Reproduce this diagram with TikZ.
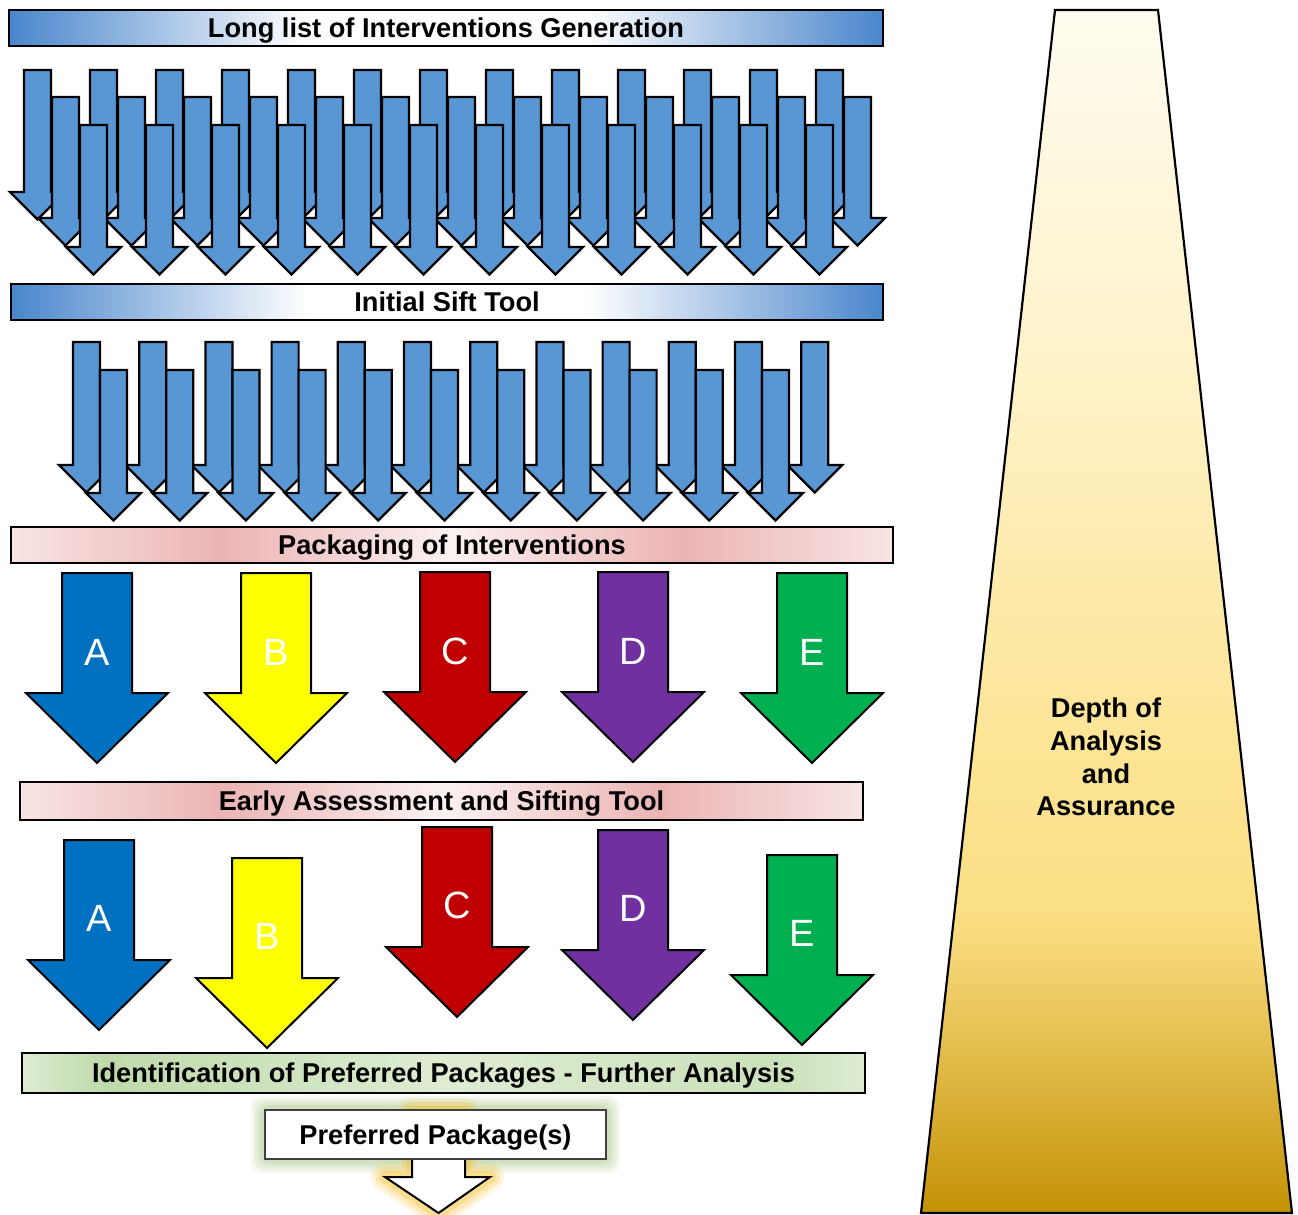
\documentclass[tikz,border=0pt]{standalone}
\usepackage{fontspec}
\setmainfont{Liberation Sans}
\usepackage{tikz}
\usetikzlibrary{positioning, calc}

\definecolor{siftblue}{RGB}{88,150,212}
\definecolor{barblue}{RGB}{74,134,204}
\definecolor{barpink}{RGB}{236,180,180}
\definecolor{barpinklight}{RGB}{248,228,228}
\definecolor{bargreen}{RGB}{190,218,170}
\definecolor{bargreenlight}{RGB}{222,236,210}
\definecolor{pkgA}{RGB}{0,112,192}
\definecolor{pkgB}{RGB}{255,255,0}
\definecolor{pkgC}{RGB}{192,0,0}
\definecolor{pkgD}{RGB}{112,48,160}
\definecolor{pkgE}{RGB}{0,176,80}
\definecolor{goldtop}{RGB}{255,252,240}
\definecolor{goldhigh}{RGB}{254,242,200}
\definecolor{goldmid}{RGB}{253,230,155}
\definecolor{goldlow}{RGB}{251,222,130}
\definecolor{goldbot}{RGB}{196,146,6}
\definecolor{glowyellow}{RGB}{245,190,40}
\definecolor{glowgreen}{RGB}{150,185,110}

\pgfdeclarehorizontalshading{bluebar}{100bp}{color(0bp)=(barblue); color(25bp)=(barblue);
    color(42bp)=(white); color(58bp)=(white); color(75bp)=(barblue); color(100bp)=(barblue)}
\pgfdeclarehorizontalshading{pinkbar}{100bp}{color(0bp)=(barpinklight); color(25bp)=(barpinklight);
    color(37bp)=(barpink); color(50bp)=(barpinklight!50!white); color(63bp)=(barpink);
    color(75bp)=(barpinklight); color(100bp)=(barpinklight)}
\pgfdeclarehorizontalshading{greenbar}{100bp}{color(0bp)=(bargreenlight); color(25bp)=(bargreenlight);
    color(30bp)=(bargreen); color(50bp)=(bargreenlight); color(70bp)=(bargreen!60!bargreenlight);
    color(75bp)=(bargreenlight); color(100bp)=(bargreenlight)}
\pgfdeclareverticalshading{depthgold}{100bp}{color(0bp)=(goldbot); color(25bp)=(goldbot);
    color(37bp)=(goldlow); color(46bp)=(goldmid); color(60bp)=(goldhigh);
    color(75bp)=(goldtop); color(100bp)=(goldtop)}

\tikzset{
    siftshape/.style={draw=black, line width=1.1pt, fill=siftblue},
    pkgshape/.style={draw=black, line width=1pt},
    stagebar/.style={draw=black, line width=1.3pt, inner sep=0pt,
        text height=9.8pt, text depth=0pt,
        font=\fontsize{13.6}{16.3}\selectfont\bfseries},
    pkglabel/.style={text=white, inner sep=0pt, font=\fontsize{19}{22}\selectfont},
    depthtext/.style={align=center, inner sep=0pt,
        font=\fontsize{13.6}{16.35}\selectfont\bfseries},
}

% small sift arrow: shaft left x, shaft top y, head y
\def\siftarrow#1#2#3{%
    \draw[siftshape] (#1,#2) -- (#1+27,#2) -- (#1+27,#3) -- (#1+41,#3)
        -- (#1+13.5,#3+27.5) -- (#1-14,#3) -- (#1,#3) -- cycle;
}

% package arrow: centre x, top y, colour
\def\pkgarrow#1#2#3{%
    \draw[pkgshape, fill=#3] (#1-35,#2) -- (#1+35,#2) -- (#1+35,#2+120) -- (#1+71,#2+120)
        -- (#1,#2+190) -- (#1-71,#2+120) -- (#1-35,#2+120) -- cycle;
}

\begin{document}
\begin{tikzpicture}[x=0.5pt, y=-0.5pt]
    \useasboundingbox (0,0) rectangle (1298,1215);

    % stage bars
    \node[stagebar, shading=bluebar, minimum width=437pt, minimum height=18pt]
        (longlist) at (446,28) {Long list of Interventions Generation};
    \node[stagebar, shading=bluebar, minimum width=436pt, minimum height=18pt]
        (initialsift) at (447,302) {Initial Sift Tool};
    \node[stagebar, shading=pinkbar, minimum width=441pt, minimum height=18pt]
        (packaging) at (452,545) {Packaging of Interventions};
    \node[stagebar, shading=pinkbar, minimum width=421.5pt, minimum height=19pt]
        (earlysift) at (441.5,801) {Early Assessment and Sifting Tool};
    \node[stagebar, shading=greenbar, minimum width=421.5pt, minimum height=20pt]
        (identify) at (443.5,1073) {Identification of Preferred Packages - Further Analysis};

    % long list arrows, three staggered rows
    \foreach \row/\ytop/\yhead/\last in {0/70/192/12, 1/97/218/12, 2/125/247/11}
    {
        \foreach \k in {0,...,\last}
        {
            \pgfmathsetmacro{\xl}{24 + 28*\row + 66*\k}
            \siftarrow{\xl}{\ytop}{\yhead}
        }
    }

    % after the initial sift, two rows
    \foreach \row/\ytop/\yhead/\last in {0/342/465/11, 1/370/493/10}
    {
        \foreach \k in {0,...,\last}
        {
            \pgfmathsetmacro{\xl}{73 + 27*\row + 66.2*\k}
            \siftarrow{\xl}{\ytop}{\yhead}
        }
    }

    % packages
    \foreach \name/\cx/\ytop/\co in {A/97/573/pkgA, B/276/573/pkgB, C/455/572/pkgC,
        D/633/572/pkgD, E/812/573/pkgE}
    {
        \pkgarrow{\cx}{\ytop}{\co}
        \node[pkglabel] (pack\name) at (\cx,\ytop+79) {\name};
    }

    % packages after early assessment
    \foreach \name/\cx/\ytop/\co in {A/99/840/pkgA, B/267/858/pkgB, C/457/827/pkgC,
        D/633/830/pkgD, E/802/855/pkgE}
    {
        \pkgarrow{\cx}{\ytop}{\co}
        \node[pkglabel] (early\name) at (\cx,\ytop+78) {\name};
    }

    % preferred package with glow
    \foreach \g/\o in {14/0.1, 11/0.12, 8/0.14, 5/0.17}
    {
        \fill[glowgreen, opacity=\o, rounded corners=5pt]
            (265-\g,1110-\g) rectangle (606+\g,1159+\g);
    }
    \foreach \w/\o in {14/0.15, 10/0.2, 6/0.3}
    {
        \draw[glowyellow, opacity=\o, line width=\w pt, line join=round]
            (412,1112) -- (465,1112) -- (465,1177) -- (490,1177) -- (438.5,1213)
            -- (385,1177) -- (412,1177) -- cycle;
    }
    \draw[pkgshape, fill=white]
        (412,1112) -- (465,1112) -- (465,1177) -- (490,1177) -- (438.5,1213)
        -- (385,1177) -- (412,1177) -- cycle;
    \node[stagebar, line width=0.8pt, draw=black!75, fill=white,
        minimum width=170.5pt, minimum height=24.5pt]
        (preferred) at (435.5,1134.5) {Preferred Package(s)};

    % depth of analysis
    \draw[line width=1.1pt, shading=depthgold]
        (1055,10) -- (1158,10) -- (1292,1213) -- (921,1213) -- cycle;
    \node[depthtext] (depth) at (1106,757) {Depth of\\Analysis\\and\\Assurance};
\end{tikzpicture}
\end{document}
